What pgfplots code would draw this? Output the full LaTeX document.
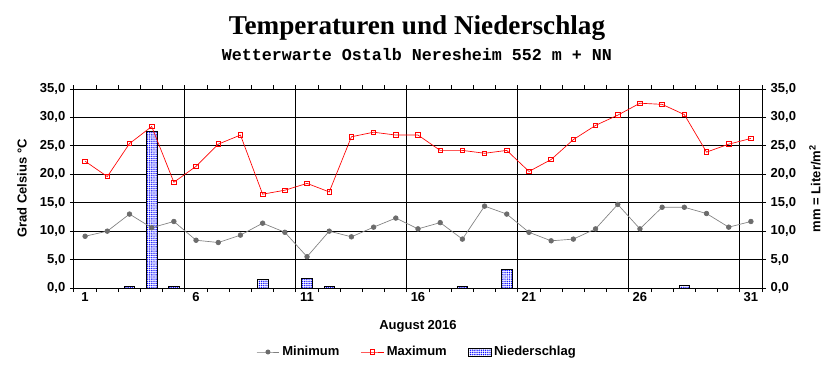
\documentclass[border=0pt]{standalone}
\usepackage{fontspec}
\setmainfont{Liberation Sans}
\newfontfamily\seriffont{Liberation Serif}
\newfontfamily\cour{Liberation Mono}
\usepackage{pgfplots}
\pgfplotsset{compat=1.18}
\usepackage{pgfplotstable}
\usetikzlibrary{patterns,patterns.meta}

\pgfplotstableread{
day tmin tmax
1 9.1 22.3
2 10.0 19.6
3 13.0 25.4
4 10.6 28.4
5 11.7 18.6
6 8.4 21.4
7 8.0 25.3
8 9.3 26.9
9 11.4 16.5
10 9.8 17.2
11 5.5 18.4
12 10.0 16.9
13 9.0 26.6
14 10.7 27.4
15 12.3 26.9
16 10.4 26.9
17 11.5 24.2
18 8.6 24.2
19 14.4 23.7
20 13.0 24.2
21 9.8 20.5
22 8.3 22.6
23 8.6 26.1
24 10.4 28.6
25 14.7 30.4
26 10.4 32.5
27 14.2 32.3
28 14.2 30.5
29 13.1 23.9
30 10.7 25.3
31 11.7 26.3
}\temps

\pgfplotstableread{
day rain
3 0.2
4 27.6
5 0.2
9 1.5
11 1.7
12 0.2
18 0.2
20 3.3
28 0.4
}\rain

\begin{document}
\begin{tikzpicture}
\pgfplotsset{
  common/.style={
    scale only axis, width=516pt, height=149.25pt,
    xmin=0.5, xmax=31.5, ymin=0, ymax=35,
    ytick={0,5,...,35},
    axis line style={black, line width=0.75pt},
    tick style={black, line width=0.75pt},
    tick align=outside,
    major tick length=3pt, minor tick length=3pt,
    /pgf/number format/assume math mode=true,
    tick label style={font=\bfseries\fontsize{9.75}{11}\selectfont},
    yticklabel style={/pgf/number format/fixed, /pgf/number format/fixed zerofill, /pgf/number format/precision=1, /pgf/number format/use comma},
    label style={font=\bfseries\fontsize{9.75}{11}\selectfont},
  }
}
\begin{axis}[common,
  ytick pos=left,
  xtick={5.5,10.5,...,30.5}, xticklabels={},
  minor xtick={0.5,1.5,...,31.5},
  xmajorgrids=true, ymajorgrids=true,
  grid style={black, line width=0.75pt},
  extra x ticks={1,6,11,16,21,26,31},
  extra x tick labels={1,6,11,16,21,26,31},
  extra x tick style={major tick length=0pt, grid=none},
  xlabel={August 2016},
  xlabel style={at={(axis description cs:0.5,0)}, anchor=center, yshift=-28.5pt},
  ylabel={Grad Celsius °C},
  ylabel style={at={(axis description cs:-0.0756,0.5)}, anchor=center},
  legend style={at={(0.499,-0.3216)}, anchor=center, draw=none, fill=none,
    legend columns=3, font=\bfseries\fontsize{9.75}{11}\selectfont,
    /tikz/every even column/.append style={column sep=14pt}},
]
\addlegendimage{gray, line width=0.5pt, mark=*, mark size=1.6pt, mark options={fill=gray!85!black, draw=gray!85!black}}
\addlegendentry{Minimum}
\addlegendimage{red, line width=0.5pt, mark=square, mark size=1.7pt, mark options={fill=white}}
\addlegendentry{Maximum}
\addlegendimage{area legend, draw=black, fill=white, postaction={pattern={Dots[distance=1.4pt,radius=0.5pt]}, pattern color=blue}}
\addlegendentry{Niederschlag}

\addplot[ybar, bar width=0.48, draw=black, line width=0.6pt, fill=white,
  postaction={pattern={Dots[distance=1.4pt,radius=0.5pt]}, pattern color=blue}, forget plot]
  table[x=day, y=rain] {\rain};
\addplot[gray, line width=0.5pt, mark=*, mark size=1.75pt, mark options={fill=gray!85!black, draw=gray!85!black}, forget plot]
  table[x=day, y=tmin] {\temps};
\addplot[red, line width=0.5pt, mark=square, mark size=1.7pt, mark options={fill=none, line width=0.6pt}, forget plot]
  table[x=day, y=tmax] {\temps};
\end{axis}
\begin{axis}[common,
  axis x line=none,
  axis y line*=right,
  ylabel={mm = Liter/m$^{\mathbf{2}}$},
  ylabel style={at={(axis description cs:1.077,0.5)}, anchor=center},
]
\end{axis}
\node[font=\seriffont\bfseries\fontsize{20.4}{24}\selectfont] at (257.25pt,195pt) {Temperaturen und Niederschlag};
\node[font=\cour\bfseries\fontsize{12.5}{14}\selectfont] at (257.25pt,174.75pt) {Wetterwarte Ostalb Neresheim 552 m + NN};
\path[use as bounding box] (-55.5pt,-65.25pt) rectangle (570.75pt,216pt);
\end{tikzpicture}
\end{document}
